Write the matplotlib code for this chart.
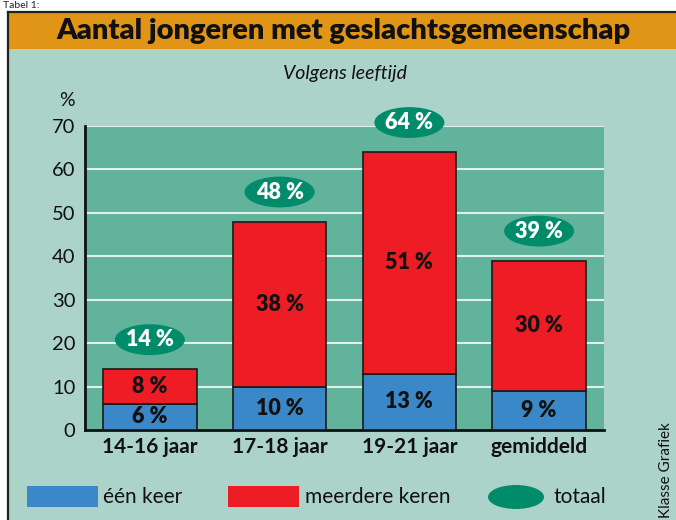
import matplotlib
matplotlib.use('Agg')
import matplotlib.pyplot as plt
from matplotlib.patches import Rectangle, Ellipse

plt.rcParams['font.family'] = ['Lato', 'DejaVu Sans']

categories = ['14-16 jaar', '17-18 jaar', '19-21 jaar', 'gemiddeld']
een_keer = [6, 10, 13, 9]
meerdere_keren = [8, 38, 51, 30]
totaal = [14, 48, 64, 39]
y_ticks = [0, 10, 20, 30, 40, 50, 60, 70]

c_header = '#e19516'
c_body = '#acd3c9'
c_plot = '#62b39c'
c_ellipse = '#008c6b'
c_blue = '#3b88c8'
c_red = '#ee1c25'
c_grid = '#dff1ea'

W, H = 676, 520
fig = plt.figure(figsize=(W / 100, H / 100), dpi=100)
fig.patch.set_facecolor('white')

# background layer in pixel coords
bg = fig.add_axes([0, 0, 1, 1])
bg.set_xlim(0, W)
bg.set_ylim(H, 0)
bg.axis('off')
bg.add_patch(Rectangle((8, 49), W - 8, H - 49, facecolor=c_body, edgecolor='none'))
bg.add_patch(Rectangle((8, 12), W - 8, 37, facecolor=c_header, edgecolor='none'))
bg.plot([8, 8], [12, H], color='#222222', lw=1.6)
bg.plot([8, W], [12, 12], color='#222222', lw=1.6)
bg.text(3, 1, 'Tabel 1:', fontsize=7.5, va='top', ha='left', color='#222222')
bg.text(344, 31, 'Aantal jongeren met geslachtsgemeenschap', fontsize=21,
        fontweight='heavy', ha='center', va='center', color='#111111')
bg.text(345, 73, 'Volgens leeftijd', fontsize=14, style='italic',
        ha='center', va='center', color='#111111')
bg.text(67, 100, '%', fontsize=14, ha='center', va='center', color='#111111')
bg.text(666, 470, 'Klasse Grafiek', fontsize=11, rotation=90,
        ha='center', va='center', color='#111111')

# legend
bg.add_patch(Rectangle((27, 486), 71, 21, facecolor=c_blue, edgecolor='none'))
bg.text(103, 497, 'één keer', fontsize=15, va='center', ha='left', color='#111111')
bg.add_patch(Rectangle((228, 486), 71, 21, facecolor=c_red, edgecolor='none'))
bg.text(305, 497, 'meerdere keren', fontsize=15, va='center', ha='left', color='#111111')
bg.add_patch(Ellipse((516, 497), 56, 24, facecolor=c_ellipse, edgecolor='none'))
bg.text(553, 497, 'totaal', fontsize=15, va='center', ha='left', color='#111111')

# main chart
ax = fig.add_axes([85 / W, (H - 430) / H, (604 - 85) / W, (430 - 126) / H])
ax.set_facecolor(c_plot)
x = range(len(categories))
w = 0.72
ax.bar(x, een_keer, width=w, color=c_blue, edgecolor='#1a1a1a', linewidth=1.2, zorder=3)
ax.bar(x, meerdere_keren, width=w, bottom=een_keer, color=c_red,
       edgecolor='#1a1a1a', linewidth=1.2, zorder=3)

for i in x:
    ax.text(i, een_keer[i] / 2, f'{een_keer[i]} %', ha='center', va='center',
            fontsize=15.5, fontweight='heavy', color='#111111', zorder=4)
    ax.text(i, een_keer[i] + meerdere_keren[i] / 2, f'{meerdere_keren[i]} %',
            ha='center', va='center', fontsize=15.5, fontweight='heavy',
            color='#111111', zorder=4)
    ax.add_patch(Ellipse((i, totaal[i] + 6.8), 0.54, 7.1, facecolor=c_ellipse,
                         edgecolor='none', clip_on=False, zorder=5))
    ax.text(i, totaal[i] + 6.8, f'{totaal[i]} %', ha='center', va='center',
            fontsize=15.5, fontweight='heavy', color='white', zorder=6, clip_on=False)

ax.set_xlim(-0.5, 3.5)
ax.set_ylim(0, 70)
ax.set_yticks(y_ticks)
ax.set_xticks(list(x))
ax.set_xticklabels(categories, fontsize=15, fontweight='bold', color='#111111')
ax.tick_params(axis='y', length=0, labelsize=14.5, labelcolor='#111111', pad=7)
ax.tick_params(axis='x', length=0, pad=5)
for yv in y_ticks[1:]:
    ax.axhline(yv, color=c_grid, lw=1.5, zorder=1)
for s in ['top', 'right']:
    ax.spines[s].set_visible(False)
ax.spines['left'].set_linewidth(2)
ax.spines['bottom'].set_linewidth(2)
ax.spines['left'].set_color('#111111')
ax.spines['bottom'].set_color('#111111')

fig.savefig('out.png', dpi=100)
